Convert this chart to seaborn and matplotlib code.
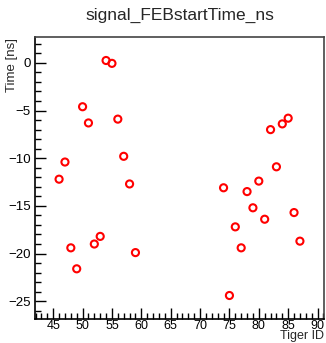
import numpy as np
import pandas as pd
import matplotlib
matplotlib.use("Agg")
import matplotlib.pyplot as plt
from matplotlib.ticker import MultipleLocator
import seaborn as sns

# data
tiger_id = [46, 47, 48, 49, 50, 51, 52, 53, 54, 55, 56, 57, 58, 59,
            74, 75, 76, 77, 78, 79, 80, 81, 82, 83, 84, 85, 86, 87]
start_time = [-12.2, -10.4, -19.4, -21.6, -4.6, -6.3, -19.0, -18.2, 0.25, -0.05,
              -5.9, -9.8, -12.7, -19.9,
              -13.1, -24.4, -17.2, -19.4, -13.5, -15.2, -12.4, -16.4, -7.0, -10.9,
              -6.4, -5.8, -15.7, -18.7]

ds = pd.DataFrame({"tiger": tiger_id, "time": start_time})

sns.set_style("ticks")
plt.rcParams["font.family"] = ["Liberation Sans", "DejaVu Sans"]

fig = plt.figure(figsize=(3.26, 3.43), dpi=100)
ax = fig.add_axes([35 / 326, 1 - 319 / 343, 289 / 326, 282 / 343])

sns.scatterplot(data=ds, x="tiger", y="time", ax=ax, marker="o", s=26,
                facecolor="none", edgecolor="red", linewidth=1.5)

# ROOT style auto range: 10% margin
dx = max(tiger_id) - min(tiger_id)
dy = max(start_time) - min(start_time)
ax.set_xlim(min(tiger_id) - 0.1 * dx, max(tiger_id) + 0.1 * dx)
ax.set_ylim(min(start_time) - 0.1 * dy, max(start_time) + 0.1 * dy)

ax.xaxis.set_major_locator(MultipleLocator(5))
ax.xaxis.set_minor_locator(MultipleLocator(1))
ax.yaxis.set_major_locator(MultipleLocator(5))
ax.yaxis.set_minor_locator(MultipleLocator(1))
ax.tick_params(which="both", direction="in", top=False, right=False,
               labelsize=9.5, colors="black")
ax.tick_params(axis="x", labelsize=9)
ax.tick_params(which="major", length=8, width=1)
ax.tick_params(which="minor", length=4, width=1)
ax.tick_params(axis="x", pad=0.5)
ax.tick_params(axis="y", pad=3)

for side in ax.spines.values():
    side.set_linewidth(1.2)
    side.set_color("black")
ax.spines["top"].set_color("#444444")
ax.spines["right"].set_color("#444444")

ax.set_xlabel("")
ax.set_ylabel("")
fig.text(324 / 326, 0.5 / 343, "Tiger ID", ha="right", va="bottom", fontsize=9)
fig.text(12 / 326, 1 - 38 / 343, "Time [ns]", ha="center", va="top",
         rotation=90, fontsize=9.5)
fig.text(180 / 326, 1 - 15 / 343, "signal_FEBstartTime_ns", ha="center",
         va="center", fontsize=12.5)

fig.savefig("out.png", dpi=100)
